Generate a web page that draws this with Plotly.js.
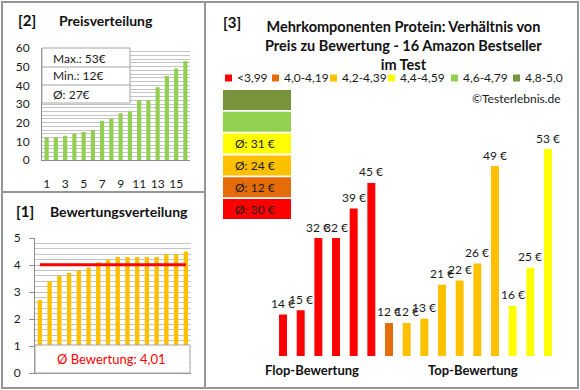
<!DOCTYPE html>
<html><head><meta charset="utf-8">
<script src="https://cdn.plot.ly/plotly-3.0.1.min.js"></script>
<style>html,body{margin:0;padding:0;background:#fff}#chart{width:580px;height:390px}</style>
</head><body><div id="chart"></div>
<script>
const W = 580, H = 390;
// ---- data ----
const products = [1,2,3,4,5,6,7,8,9,10,11,12,13,14,15,16];
const pricesSorted = [12,12,13,14,15,16,21,22,25,26,32,32,39,45,49,53];
const ratingsSorted = [2.7,3.4,3.6,3.7,3.8,3.9,4.1,4.2,4.3,4.3,4.3,4.3,4.3,4.4,4.4,4.5];
const avgRating = 4.01;
const avgRatingLabel = "Ø Bewertung: 4,01";
const priceStats = ["Max.: 53€", "Min.: 12€", "Ø: 27€"];
const priceTicks = [1,3,5,7,9,11,13,15];
const pricesByRating = [14,15,32,32,39,45,12,12,13,21,22,26,49,16,25,53];
const ratingClass = [0,0,0,0,0,0,1,2,2,2,2,2,2,3,3,3];
const classLabels = ["<3,99","4,0-4,19","4,2-4,39","4,4-4,59","4,6-4,79","4,8-5,0"];
const classColors = ["#FF0000","#E46C0A","#FFC000","#FFFF00","#92D050","#77933C"];
const classAvgLabels = ["Ø: 30 €","Ø: 12 €","Ø: 24 €","Ø: 31 €","",""];
const groupLabels = ["Flop-Bewertung","Top-Bewertung"];
const titles = ["[2]","Preisverteilung","[1]","Bewertungsverteilung","[3]",
  "Mehrkomponenten Protein: Verhältnis von<br>Preis zu Bewertung - 16 Amazon Bestseller<br>im Test"];
const copyright = "©Testerlebnis.de";

// ---- helpers ----
const px = x => x / W;
const py = y => 1 - y / H;
const FONT = "Lato, 'Open Sans', sans-serif";
const GRID = "#C4C4C4", AXIS = "#8C8C8C", BORDER = "#969696";

const traces = [
  {type:'bar', x:products, y:pricesSorted, xaxis:'x', yaxis:'y',
   marker:{color:'#92D050'}, hoverinfo:'none'},
  {type:'bar', x:products, y:ratingsSorted, xaxis:'x2', yaxis:'y2',
   marker:{color:'#FFC000'}, hoverinfo:'none'},
  {type:'scatter', mode:'lines', x:[products[0], products[products.length-1]], y:[avgRating, avgRating],
   xaxis:'x2', yaxis:'y2', line:{color:'#FF0000', width:3}, hoverinfo:'none'},
  {type:'bar', x:products, y:pricesByRating, xaxis:'x3', yaxis:'y3',
   marker:{color:ratingClass.map(c => classColors[c])}, hoverinfo:'none'}
];

const shapes = [];
const annotations = [];

// borders
shapes.push({type:'rect', xref:'paper', yref:'paper', x0:px(2), x1:px(578), y0:py(388), y1:py(2), line:{color:BORDER, width:2}});
shapes.push({type:'line', xref:'paper', yref:'paper', x0:px(205), x1:px(205), y0:py(388), y1:py(2), line:{color:BORDER, width:2}});
shapes.push({type:'line', xref:'paper', yref:'paper', x0:px(2), x1:px(205), y0:py(192), y1:py(192), line:{color:BORDER, width:2}});

// panel [2] stats box
shapes.push({type:'rect', xref:'paper', yref:'paper', x0:px(42), x1:px(130), y0:py(103), y1:py(48), fillcolor:'#fff', line:{color:'#A6A6A6', width:1}});
[67, 85].forEach(y => shapes.push({type:'line', xref:'paper', yref:'paper', x0:px(42), x1:px(130), y0:py(y), y1:py(y), line:{color:'#A6A6A6', width:1}}));
priceStats.forEach((t, i) => annotations.push({xref:'paper', yref:'paper', x:px(51), y:py(58 + i*18), xanchor:'left', yanchor:'middle',
  text:t, showarrow:false, font:{family:FONT, size:12, color:'#1a1a1a'}}));

// panel [1] average box
shapes.push({type:'rect', xref:'paper', yref:'paper', x0:px(35), x1:px(190), y0:py(373), y1:py(345), fillcolor:'#fff', line:{color:'#A6A6A6', width:1}});
annotations.push({xref:'paper', yref:'paper', x:px(111), y:py(359), xanchor:'center', yanchor:'middle',
  text:avgRatingLabel, showarrow:false, font:{family:FONT, size:13, color:'#FF0000'}});

// titles
annotations.push({xref:'paper', yref:'paper', x:px(16), y:py(20), xanchor:'left', yanchor:'middle', text:'<b>'+titles[0]+'</b>', showarrow:false, font:{family:FONT, size:15, color:'#111'}});
annotations.push({xref:'paper', yref:'paper', x:px(57), y:py(20), xanchor:'left', yanchor:'middle', text:'<b>'+titles[1]+'</b>', showarrow:false, font:{family:FONT, size:14, color:'#111'}});
annotations.push({xref:'paper', yref:'paper', x:px(14), y:py(211), xanchor:'left', yanchor:'middle', text:'<b>'+titles[2]+'</b>', showarrow:false, font:{family:FONT, size:15, color:'#111'}});
annotations.push({xref:'paper', yref:'paper', x:px(48), y:py(211), xanchor:'left', yanchor:'middle', text:'<b>'+titles[3]+'</b>', showarrow:false, font:{family:FONT, size:14, color:'#111'}});
annotations.push({xref:'paper', yref:'paper', x:px(221), y:py(22), xanchor:'left', yanchor:'middle', text:'<b>'+titles[4]+'</b>', showarrow:false, font:{family:FONT, size:15, color:'#111'}});
annotations.push({xref:'paper', yref:'paper', x:px(403), y:py(45), xanchor:'center', yanchor:'middle', text:'<b>'+titles[5]+'</b>', showarrow:false, font:{family:FONT, size:14.5, color:'#111'}});

// legend
const legX = [225, 272, 330, 388, 451, 513];
classLabels.forEach((t, i) => {
  shapes.push({type:'rect', xref:'paper', yref:'paper', x0:px(legX[i]), x1:px(legX[i]+7), y0:py(81.5), y1:py(74.5), fillcolor:classColors[i], line:{width:0}});
  annotations.push({xref:'paper', yref:'paper', x:px(legX[i]+10), y:py(78), xanchor:'left', yanchor:'middle', text:t, showarrow:false, font:{family:FONT, size:12, color:'#1a1a1a'}});
});
annotations.push({xref:'paper', yref:'paper', x:px(563), y:py(98), xanchor:'right', yanchor:'middle', text:copyright, showarrow:false, font:{family:FONT, size:12, color:'#1a1a1a'}});

// class average boxes (top: best class)
for (let r = 0; r < 6; r++) {
  const c = 5 - r;
  const top = 90 + r * 21.8;
  shapes.push({type:'rect', xref:'paper', yref:'paper', x0:px(223), x1:px(291), y0:py(top+20), y1:py(top), fillcolor:classColors[c], line:{width:0}});
  if (classAvgLabels[c]) annotations.push({xref:'paper', yref:'paper', x:px(233), y:py(top+10), xanchor:'left', yanchor:'middle', text:classAvgLabels[c], showarrow:false, font:{family:FONT, size:12, color:'#1a1a1a'}});
}

// bar value labels
pricesByRating.forEach((v, i) => annotations.push({xref:'x3', yref:'y3', x:products[i], y:v, yshift:11, xanchor:'center', yanchor:'middle',
  text:v + ' €', showarrow:false, font:{family:FONT, size:12, color:'#1a1a1a'}}));

// group labels
annotations.push({xref:'paper', yref:'paper', x:px(312), y:py(370), xanchor:'center', yanchor:'middle', text:'<b>'+groupLabels[0]+'</b>', showarrow:false, font:{family:FONT, size:13, color:'#111'}});
annotations.push({xref:'paper', yref:'paper', x:px(473), y:py(370), xanchor:'center', yanchor:'middle', text:'<b>'+groupLabels[1]+'</b>', showarrow:false, font:{family:FONT, size:13, color:'#111'}});

const layout = {
  width:W, height:H, margin:{l:0, r:0, t:0, b:0}, showlegend:false,
  paper_bgcolor:'#fff', plot_bgcolor:'rgba(0,0,0,0)', bargap:0.55,
  font:{family:FONT, size:12, color:'#1a1a1a'},
  xaxis:{domain:[px(42), px(190)], range:[0.5, 16.5], tickvals:priceTicks, ticks:'', showgrid:false, zeroline:false,
    showline:true, linecolor:AXIS, linewidth:1, ticklabelstandoff:13, tickfont:{size:12, color:'#1a1a1a'}, fixedrange:true},
  yaxis:{domain:[py(160), py(48)], range:[0, 60], dtick:10, showgrid:true, gridcolor:GRID, gridwidth:1, zeroline:false,
    showline:true, linecolor:AXIS, linewidth:1, ticks:'', ticklabelstandoff:9, tickfont:{size:12, color:'#1a1a1a'},
    minor:{dtick:2, showgrid:true, gridcolor:GRID, gridwidth:1}, fixedrange:true},
  xaxis2:{domain:[px(35), px(190.7)], range:[0.5, 16.5], showticklabels:false, ticks:'', showgrid:false, zeroline:false,
    showline:true, linecolor:AXIS, linewidth:1, anchor:'y2', fixedrange:true},
  yaxis2:{domain:[py(373), py(238)], range:[0, 5], dtick:1, showgrid:true, gridcolor:GRID, gridwidth:1, zeroline:false,
    showline:true, linecolor:AXIS, linewidth:1, ticks:'outside', ticklen:5, tickcolor:AXIS, ticklabelstandoff:6,
    tickfont:{size:12, color:'#1a1a1a'}, minor:{dtick:0.2, showgrid:true, gridcolor:GRID, gridwidth:1}, anchor:'x2', fixedrange:true},
  xaxis3:{domain:[px(274.2), px(556.8)], range:[0.5, 16.5], visible:false, anchor:'y3', fixedrange:true},
  yaxis3:{domain:[py(356), py(130)], range:[4.2, 57.5], visible:false, anchor:'x3', fixedrange:true},
  shapes:shapes, annotations:annotations
};

Plotly.newPlot('chart', traces, layout, {staticPlot:true, displayModeBar:false});
</script></body></html>
